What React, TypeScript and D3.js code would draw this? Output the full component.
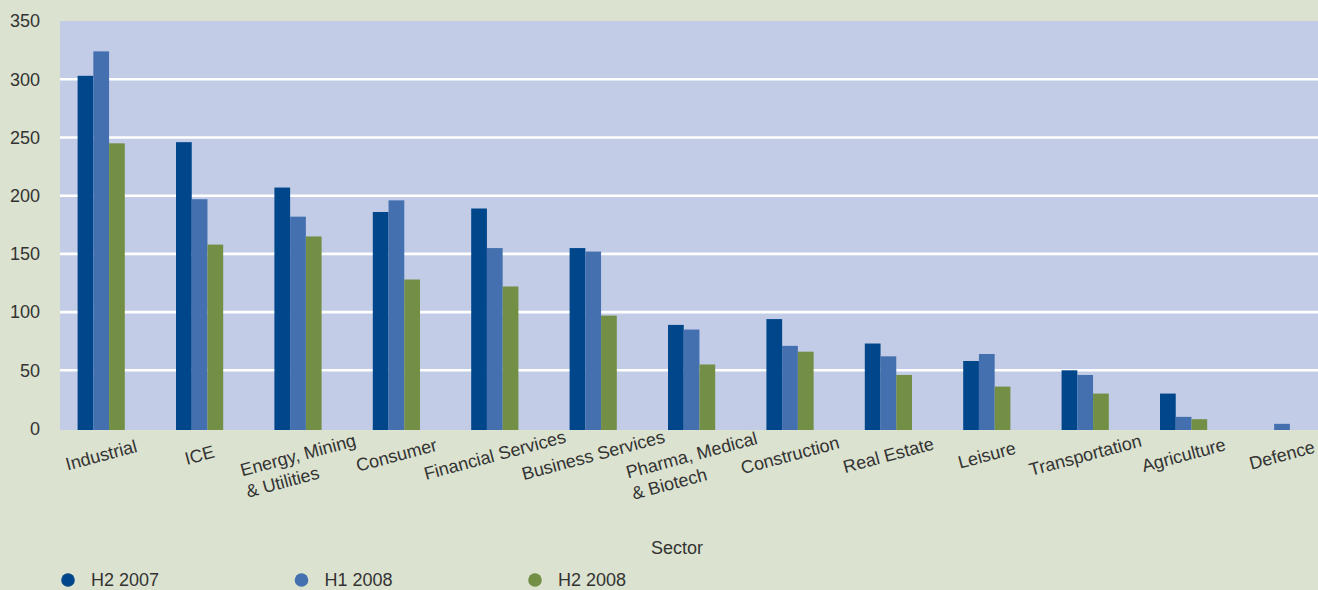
import React, { useEffect, useRef } from "react";
import * as d3 from "d3";

const categories = [
  "Industrial",
  "ICE",
  "Energy, Mining\n& Utilities",
  "Consumer",
  "Financial Services",
  "Business Services",
  "Pharma, Medical\n& Biotech",
  "Construction",
  "Real Estate",
  "Leisure",
  "Transportation",
  "Agriculture",
  "Defence",
];
const seriesNames = ["H2 2007", "H1 2008", "H2 2008"];
const h2_2007 = [303, 246, 207, 186, 189, 155, 89, 94, 73, 58, 50, 30, 0];
const h1_2008 = [324, 197, 182, 196, 155, 152, 85, 71, 62, 64, 46, 10, 4];
const h2_2008 = [245, 158, 165, 128, 122, 97, 55, 66, 46, 36, 30, 8, 0];
const yTicks = [0, 50, 100, 150, 200, 250, 300, 350];
const xTitle = "Sector";

const W = 1318;
const H = 590;
const COLORS = ["#00468b", "#4470b0", "#738e45"];
const FONT = "'Liberation Sans', Arial, Helvetica, sans-serif";
const TEXT = "#333333";

export default function App() {
  const ref = useRef<SVGSVGElement>(null);

  useEffect(() => {
    const svg = d3.select(ref.current);
    svg.selectAll("*").remove();

    const seriesValues = [h2_2007, h1_2008, h2_2008];
    const plotLeft = 60;
    const plotTop = 21;
    const plotBottom = 430;

    const y = d3.scaleLinear().domain([0, 350]).range([428.5, 21.1]);
    const step = 98.4;
    const x0 = d3
      .scaleBand<string>()
      .domain(categories)
      .range([52, 52 + categories.length * step])
      .padding(0);
    const groupW = 47.2;
    const x1 = d3.scaleBand<string>().domain(seriesNames).range([0, groupW]).padding(0);

    svg.append("rect").attr("x", 0).attr("y", 0).attr("width", W).attr("height", H).attr("fill", "#dbe2cf");
    svg
      .append("rect")
      .attr("x", plotLeft)
      .attr("y", plotTop)
      .attr("width", W - plotLeft)
      .attr("height", plotBottom - plotTop)
      .attr("fill", "#c2cce6");

    // gridlines
    svg
      .append("g")
      .selectAll("line")
      .data(yTicks.filter((t) => t > 0 && t < 350))
      .join("line")
      .attr("x1", plotLeft)
      .attr("x2", W)
      .attr("y1", (d) => y(d))
      .attr("y2", (d) => y(d))
      .attr("stroke", "#ffffff")
      .attr("stroke-width", 2.6);

    // y tick labels
    svg
      .append("g")
      .selectAll("text")
      .data(yTicks)
      .join("text")
      .attr("x", 40)
      .attr("y", (d) => y(d))
      .attr("dy", "0.35em")
      .attr("text-anchor", "end")
      .attr("font-family", FONT)
      .attr("font-size", 18)
      .attr("fill", TEXT)
      .text((d) => String(d));

    // bars
    const gBars = svg.append("g");
    seriesNames.forEach((s, si) => {
      gBars
        .append("g")
        .selectAll("rect")
        .data(categories.map((c, i) => ({ c, v: seriesValues[si][i] })))
        .join("rect")
        .attr("x", (d) => (x0(d.c) as number) + (step - groupW) / 2 + (x1(s) as number))
        .attr("width", x1.bandwidth())
        .attr("y", (d) => y(d.v))
        .attr("height", (d) => (d.v > 0 ? plotBottom - y(d.v) : 0))
        .attr("fill", COLORS[si]);
    });

    // x labels
    const gx = svg.append("g");
    categories.forEach((c) => {
      const cx = (x0(c) as number) + step / 2;
      const cy = 455;
      const lines = c.split("\n");
      const g = gx.append("g").attr("transform", `translate(${cx},${cy}) rotate(-15)`);
      const t = g
        .append("text")
        .attr("font-family", FONT)
        .attr("font-size", 18)
        .attr("fill", TEXT)
        .attr("text-anchor", "start");
      lines.forEach((ln, li) => {
        t.append("tspan")
          .attr("x", 0)
          .attr("y", li * 22)
          .attr("dy", "0.35em")
          .text(ln);
      });
      const node = t.node() as SVGTextElement;
      const bw = node.getBBox().width;
      t.attr("transform", `translate(${-bw / 2},0)`);
    });

    // axis title
    svg
      .append("text")
      .attr("x", 677)
      .attr("y", 548)
      .attr("dy", "0.35em")
      .attr("text-anchor", "middle")
      .attr("font-family", FONT)
      .attr("font-size", 18)
      .attr("fill", TEXT)
      .text(xTitle);

    // legend
    const legendX = d3.scalePoint<string>().domain(seriesNames).range([68, 535]);
    const lg = svg.append("g");
    seriesNames.forEach((s, si) => {
      const lx = legendX(s) as number;
      lg.append("circle").attr("cx", lx).attr("cy", 580).attr("r", 6.8).attr("fill", COLORS[si]);
      lg.append("text")
        .attr("x", lx + 23)
        .attr("y", 580)
        .attr("dy", "0.35em")
        .attr("font-family", FONT)
        .attr("font-size", 18)
        .attr("fill", TEXT)
        .text(s);
    });
  }, []);

  return (
    <div style={{ position: "fixed", left: 0, top: 0 }}>
      <svg ref={ref} width={W} height={H} style={{ display: "block" }} />
    </div>
  );
}
